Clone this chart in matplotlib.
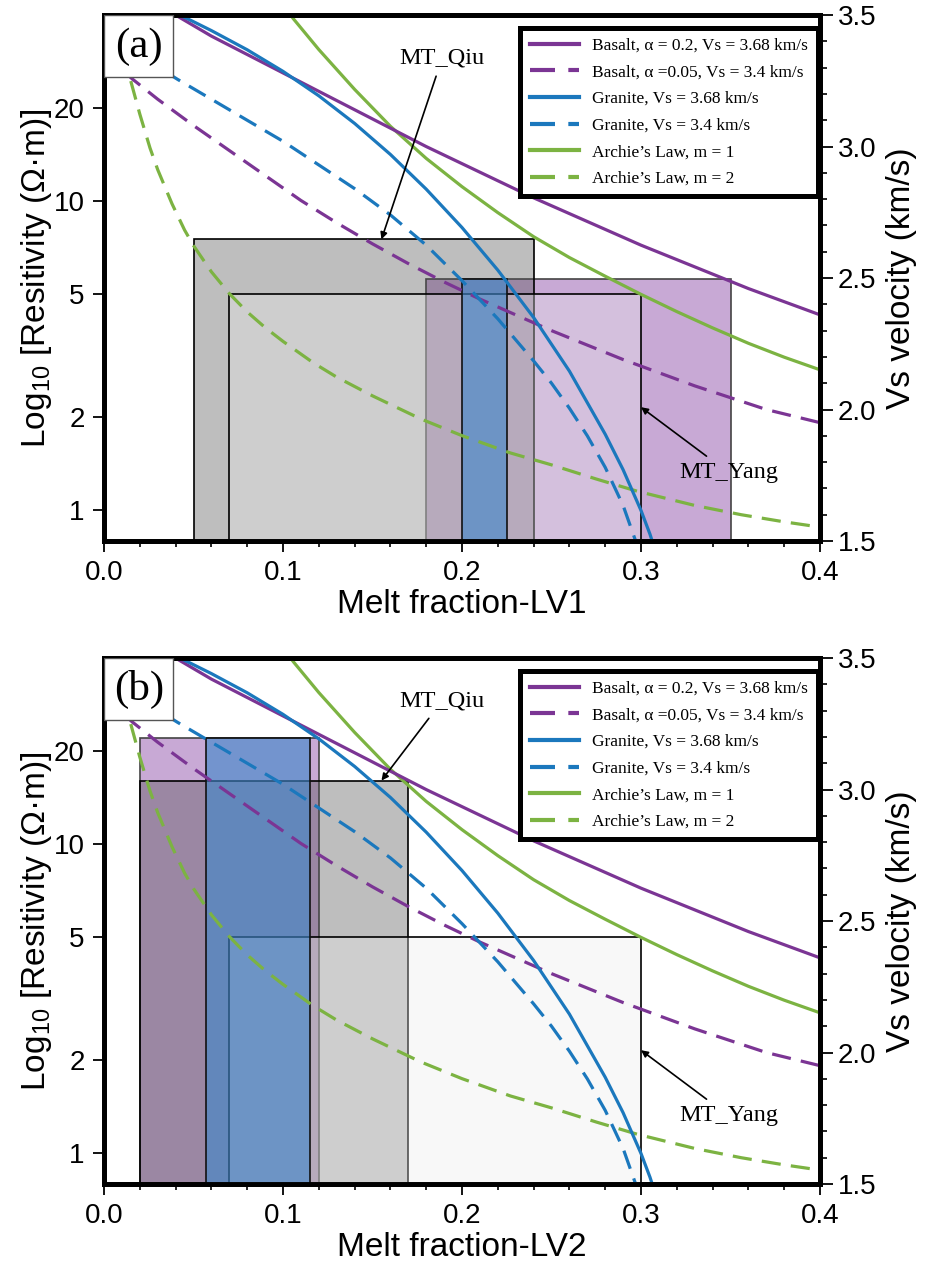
import matplotlib
matplotlib.use("Agg")
import matplotlib.pyplot as plt
from matplotlib.patches import Rectangle
from matplotlib.ticker import FixedLocator, MultipleLocator, NullLocator
from matplotlib.colors import to_rgba

plt.rcParams['font.family'] = ['Liberation Sans', 'DejaVu Sans']
plt.rcParams['mathtext.fontset'] = 'custom'
plt.rcParams['mathtext.rm'] = 'Liberation Sans'
SERIF = ['Liberation Serif', 'DejaVu Serif']

# --- model curves (same in both panels) ---
# Vs curves, right axis (km/s)
basalt02_x = [0.03, 0.04, 0.06, 0.08, 0.10, 0.12, 0.14, 0.16, 0.18, 0.20, 0.22, 0.24,
              0.26, 0.28, 0.30, 0.32, 0.34, 0.36, 0.38, 0.40]
basalt02_vs = [3.55, 3.50, 3.42, 3.35, 3.28, 3.21, 3.14, 3.07, 3.00, 2.935, 2.87, 2.805,
               2.745, 2.685, 2.625, 2.57, 2.515, 2.46, 2.41, 2.36]
basalt005_x = [0.012, 0.016, 0.03, 0.05, 0.07, 0.09, 0.11, 0.13, 0.15, 0.17, 0.19, 0.21,
               0.23, 0.25, 0.27, 0.29, 0.31, 0.33, 0.35, 0.37, 0.40]
basalt005_vs = [3.28, 3.256, 3.18, 3.08, 2.985, 2.89, 2.795, 2.71, 2.63, 2.555, 2.485, 2.42,
                2.36, 2.30, 2.245, 2.19, 2.14, 2.09, 2.045, 2.00, 1.95]
granite368_x = [0.03, 0.047, 0.06, 0.08, 0.10, 0.12, 0.14, 0.16, 0.18, 0.20, 0.22, 0.24,
                0.26, 0.28, 0.29, 0.30, 0.305, 0.31, 0.315]
granite368_vs = [3.54, 3.485, 3.441, 3.368, 3.286, 3.193, 3.088, 2.970, 2.838, 2.692, 2.530,
                 2.350, 2.146, 1.906, 1.771, 1.616, 1.526, 1.421, 1.30]
granite34_x = [0.005, 0.02, 0.041, 0.06, 0.08, 0.10, 0.12, 0.14, 0.16, 0.18, 0.20, 0.22,
               0.24, 0.25, 0.26, 0.27, 0.28, 0.29, 0.297, 0.303]
granite34_vs = [3.40, 3.345, 3.256, 3.18, 3.10, 3.02, 2.93, 2.84, 2.74, 2.625, 2.49, 2.345,
                2.185, 2.10, 2.005, 1.90, 1.78, 1.635, 1.50, 1.38]
# Archie's law, left axis (ohm m)
archie1_x = [0.10, 0.106, 0.12, 0.14, 0.16, 0.18, 0.20, 0.22, 0.24, 0.26, 0.28, 0.30,
             0.32, 0.34, 0.36, 0.38, 0.40]
archie1_rho = [42.8, 38.6, 30.8, 22.9, 17.4, 13.7, 11.1, 9.15, 7.65, 6.55, 5.70, 4.98,
               4.38, 3.88, 3.46, 3.12, 2.84]
archie2_x = [0.012, 0.0145, 0.02, 0.0257, 0.03, 0.038, 0.045, 0.05, 0.06, 0.07, 0.08, 0.09,
             0.10, 0.117, 0.13, 0.15, 0.177, 0.20, 0.227, 0.25, 0.275, 0.298, 0.33, 0.356,
             0.38, 0.40]
archie2_rho = [30.2, 24.9, 19.05, 14.8, 12.6, 9.77, 8.04, 7.16, 5.89, 5.01, 4.37, 3.89,
               3.51, 2.99, 2.69, 2.34, 1.97, 1.74, 1.53, 1.40, 1.26, 1.15, 1.035, 0.966,
               0.916, 0.881]

# --- melt fraction ranges: (x0, x1, top resistivity) ---
qiu_a = (0.05, 0.24, 7.5)
yang_a = (0.07, 0.30, 5.0)
basalt_box_a = (0.18, 0.35, 5.6)
granite_box_a = (0.20, 0.225, 5.6)
qiu_b = (0.02, 0.17, 16.0)
yang_b = (0.07, 0.30, 5.0)
basalt_box_b = (0.02, 0.12, 22.0)
granite_box_b = (0.057, 0.115, 22.0)

labels = ['Basalt, \u03b1 = 0.2, Vs = 3.68 km/s', 'Basalt, \u03b1 =0.05, Vs = 3.4 km/s',
          'Granite, Vs = 3.68 km/s', 'Granite, Vs = 3.4 km/s',
          'Archie\u2019s Law, m = 1', 'Archie\u2019s Law, m = 2']

purple = '#7b3594'
blue = '#1b78bd'
green = '#7cb342'
LW = 2.3
DASH = (6, 3.2)

ylo, yhi = 10 ** -0.1, 10 ** 1.6

fig = plt.figure(figsize=(9.27, 12.67), dpi=100)
panels = [
    ('(a)', 'Melt fraction-LV1', [0.1122, 0.5730, 0.7724, 0.4151], qiu_a, yang_a, basalt_box_a, granite_box_a),
    ('(b)', 'Melt fraction-LV2', [0.1122, 0.0655, 0.7724, 0.4151], qiu_b, yang_b, basalt_box_b, granite_box_b),
]

for letter, xlabel, rect, qiu, yang, bbox_b, bbox_g in panels:
    ax = fig.add_axes(rect)
    ax.set_yscale('log')
    ax.set_xlim(0, 0.4)
    ax.set_ylim(ylo, yhi)
    ax2 = ax.twinx()
    ax2.set_ylim(1.5, 3.5)

    # boxes
    for (x0, x1, top), fc, al, ec, z in [
            (bbox_b, '#8742a2', 0.45, '#444444', 2),
            (qiu, '#4f4f4f', 0.37, 'black', 3),
            (yang, '#ececec', 0.35, 'black', 4),
            (bbox_g, '#4088cb', 0.62, '#111111', 5)]:
        ax.add_patch(Rectangle((x0, 0.1), x1 - x0, top - 0.1, facecolor=to_rgba(fc, al),
                               edgecolor=ec, lw=1.2, zorder=z))

    # curves
    l5, = ax.plot(archie1_x, archie1_rho, color=green, lw=LW, zorder=6)
    l6, = ax.plot(archie2_x, archie2_rho, color=green, lw=LW, dashes=DASH, zorder=6)
    l1, = ax2.plot(basalt02_x, basalt02_vs, color=purple, lw=LW)
    l2, = ax2.plot(basalt005_x, basalt005_vs, color=purple, lw=LW, dashes=DASH)
    l3, = ax2.plot(granite368_x, granite368_vs, color=blue, lw=LW)
    l4, = ax2.plot(granite34_x, granite34_vs, color=blue, lw=LW, dashes=DASH)

    # annotations
    ax2.annotate('MT_Qiu', xy=(0.155, qiu[2]), xycoords=ax.transData,
                 xytext=(0.189, 29.0), textcoords=ax.transData,
                 ha='center', va='center', fontsize=17.5, family=SERIF,
                 arrowprops=dict(arrowstyle='-|>', color='black', lw=1.2,
                                 mutation_scale=10, shrinkA=4, shrinkB=0))
    ax2.annotate('MT_Yang', xy=(0.30, 2.15), xycoords=ax.transData,
                 xytext=(0.349, 1.32), textcoords=ax.transData,
                 ha='center', va='center', fontsize=17.5, family=SERIF,
                 arrowprops=dict(arrowstyle='-|>', color='black', lw=1.2,
                                 mutation_scale=10, shrinkA=4, shrinkB=0))

    # panel letter box
    ax2.add_patch(Rectangle((0, 0.882), 0.096, 0.118, transform=ax2.transAxes,
                            facecolor='white', edgecolor='#555555', lw=1.0, zorder=10))
    ax2.text(0.049, 0.940, letter, transform=ax2.transAxes, ha='center', va='center',
             fontsize=31, family=SERIF, zorder=11)

    leg = ax2.legend([l1, l2, l3, l4, l5, l6], labels, loc='upper right',
                     bbox_to_anchor=(0.997, 0.975), prop={'family': SERIF, 'size': 12.5},
                     frameon=True, fancybox=False, framealpha=1, edgecolor='black',
                     borderpad=0.55, handlelength=2.8, labelspacing=0.6,
                     handletextpad=0.8, borderaxespad=0)
    leg.get_frame().set_linewidth(3.6)
    leg.set_zorder(12)
    for h in leg.get_lines():
        h.set_linewidth(3.0)

    # axes styling
    ax.set_xticks([0, 0.1, 0.2, 0.3, 0.4])
    ax.set_xticklabels(['0.0', '0.1', '0.2', '0.3', '0.4'])
    ax.xaxis.set_minor_locator(MultipleLocator(0.02))
    ax.yaxis.set_major_locator(FixedLocator([1, 2, 5, 10, 20]))
    ax.yaxis.set_minor_locator(NullLocator())
    ax.set_yticklabels(['1', '2', '5', '10', '20'])
    ax.tick_params(axis='both', which='major', direction='out', length=8, width=1.3,
                   labelsize=20, pad=6)
    ax.tick_params(axis='x', which='minor', direction='out', length=4.5, width=1.2)
    ax2.set_yticks([1.5, 2.0, 2.5, 3.0, 3.5])
    ax2.set_yticklabels(['1.5', '2.0', '2.5', '3.0', '3.5'])
    ax2.yaxis.set_minor_locator(MultipleLocator(0.1))
    ax2.tick_params(axis='y', which='major', direction='out', length=9, width=1.3,
                    labelsize=20, pad=4)
    ax2.tick_params(axis='y', which='minor', direction='out', length=5, width=1.2)
    for a in (ax, ax2):
        for s in a.spines.values():
            s.set_linewidth(3.5)

    ax.set_xlabel(xlabel, fontsize=24, labelpad=2)
    ax.set_ylabel('Log$_{10}$ [Resitivity (\u03a9\u00b7m)]', fontsize=24, labelpad=0)
    ax2.set_ylabel('Vs velocity (km/s)', fontsize=24, labelpad=7)

fig.savefig('out.png', dpi=100)
